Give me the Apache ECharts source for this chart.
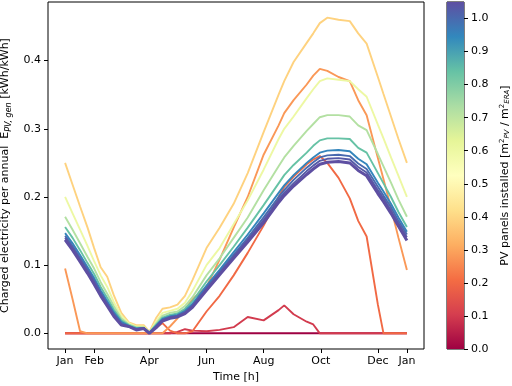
<!DOCTYPE html>
<html>
<head>
<meta charset="utf-8">
<script src="https://cdn.jsdelivr.net/npm/echarts@6/dist/echarts.min.js"></script>
<style>
  html, body { margin: 0; padding: 0; background: #fff; }
  #chart { width: 512px; height: 386px; }
</style>
</head>
<body>
<div id="chart"></div>
<script>
// day of year for every sample
const days = [0, 8, 16, 24, 31, 38, 45, 52, 60, 68, 76, 84, 90, 97, 104, 112, 120, 128, 136, 151,
  165, 180, 195, 212, 228, 234, 244, 258, 265, 272, 280, 292, 304, 313, 322, 334, 340, 348, 356, 365];

// PV panels installed for each line (colour scale value)
const panels = [0.0, 0.1, 0.2, 0.28, 0.39, 0.6, 0.72, 0.84, 0.95, 1.0, 1.03, 1.05];

const pv000 = [0, 0, 0, 0, 0, 0, 0, 0, 0, 0, 0, 0, 0, 0, 0, 0, 0, 0, 0, 0,
  0, 0, 0, 0, 0, 0, 0, 0, 0, 0, 0, 0, 0, 0, 0, 0, 0, 0, 0, 0];
const pv010 = [0, 0, 0, 0, 0, 0, 0, 0, 0, 0, 0, 0, 0, 0, 0, 0, 0.002, 0.006, 0.004, 0.003,
  0.005, 0.009, 0.024, 0.019, 0.034, 0.041, 0.028, 0.017, 0.013, 0, 0, 0, 0, 0, 0, 0, 0, 0, 0, 0];
const pv020 = [0, 0, 0, 0, 0, 0, 0, 0, 0, 0, 0, 0, 0, 0.008, 0.015, 0.004, 0, 0, 0.003, 0.032,
  0.055, 0.085, 0.118, 0.158, 0.2, 0.215, 0.23, 0.248, 0.255, 0.26, 0.25, 0.228, 0.198, 0.165, 0.142, 0.042, 0, 0, 0, 0];
const pv028 = [0.095, 0.05, 0.003, 0, 0, 0, 0, 0, 0, 0, 0, 0, 0, 0, 0, 0.01, 0.022, 0.035, 0.05, 0.068,
  0.108, 0.155, 0.2, 0.262, 0.305, 0.323, 0.342, 0.365, 0.378, 0.388, 0.385, 0.376, 0.37, 0.342, 0.32, 0.257, 0.226, 0.184, 0.14, 0.093];
const pv039 = [0.25, 0.218, 0.186, 0.155, 0.125, 0.097, 0.083, 0.056, 0.03, 0.016, 0.012, 0.012, 0.002, 0.022, 0.036, 0.038, 0.042, 0.055, 0.078, 0.125,
  0.155, 0.19, 0.235, 0.295, 0.35, 0.37, 0.398, 0.426, 0.44, 0.455, 0.463, 0.46, 0.458, 0.44, 0.425, 0.376, 0.351, 0.318, 0.285, 0.25];
const pv060 = [0.2, 0.176, 0.152, 0.128, 0.106, 0.085, 0.068, 0.046, 0.026, 0.015, 0.01, 0.01, 0.001, 0.017, 0.03, 0.033, 0.036, 0.045, 0.062, 0.1,
  0.125, 0.16, 0.195, 0.24, 0.285, 0.3, 0.318, 0.345, 0.358, 0.37, 0.374, 0.372, 0.37, 0.358, 0.347, 0.306, 0.286, 0.258, 0.231, 0.2];
const pv072 = [0.171, 0.152, 0.132, 0.112, 0.095, 0.075, 0.058, 0.04, 0.022, 0.013, 0.009, 0.009, 0.001, 0.014, 0.026, 0.03, 0.032, 0.04, 0.053, 0.085,
  0.11, 0.14, 0.17, 0.21, 0.245, 0.258, 0.275, 0.297, 0.307, 0.317, 0.32, 0.32, 0.318, 0.305, 0.298, 0.263, 0.245, 0.221, 0.196, 0.171];
const pv084 = [0.156, 0.14, 0.122, 0.103, 0.087, 0.068, 0.052, 0.035, 0.019, 0.012, 0.008, 0.008, 0.001, 0.012, 0.023, 0.027, 0.029, 0.036, 0.047, 0.076,
  0.1, 0.127, 0.155, 0.188, 0.22, 0.232, 0.247, 0.265, 0.275, 0.283, 0.286, 0.286, 0.285, 0.272, 0.265, 0.235, 0.22, 0.2, 0.178, 0.156];
const pv095 = [0.147, 0.132, 0.115, 0.097, 0.081, 0.063, 0.047, 0.031, 0.017, 0.011, 0.007, 0.008, 0.001, 0.011, 0.021, 0.025, 0.027, 0.033, 0.043, 0.07,
  0.093, 0.119, 0.145, 0.176, 0.206, 0.217, 0.232, 0.25, 0.258, 0.265, 0.268, 0.269, 0.267, 0.256, 0.248, 0.221, 0.208, 0.19, 0.17, 0.149];
const pv100 = [0.143, 0.128, 0.111, 0.094, 0.078, 0.06, 0.044, 0.029, 0.015, 0.01, 0.006, 0.008, 0.001, 0.01, 0.02, 0.024, 0.026, 0.031, 0.041, 0.067,
  0.09, 0.115, 0.14, 0.17, 0.2, 0.21, 0.225, 0.243, 0.251, 0.258, 0.261, 0.262, 0.26, 0.249, 0.241, 0.215, 0.202, 0.185, 0.165, 0.145];
const pv103 = [0.14, 0.125, 0.108, 0.091, 0.075, 0.057, 0.042, 0.027, 0.013, 0.01, 0.006, 0.008, 0, 0.009, 0.019, 0.023, 0.025, 0.03, 0.04, 0.065,
  0.088, 0.112, 0.137, 0.166, 0.196, 0.206, 0.22, 0.238, 0.246, 0.253, 0.256, 0.257, 0.255, 0.244, 0.236, 0.21, 0.198, 0.18, 0.161, 0.141];
const pv105 = [0.137, 0.122, 0.105, 0.088, 0.072, 0.055, 0.04, 0.025, 0.012, 0.01, 0.005, 0.007, 0, 0.008, 0.018, 0.022, 0.024, 0.029, 0.038, 0.063,
  0.086, 0.11, 0.134, 0.162, 0.192, 0.202, 0.216, 0.233, 0.241, 0.248, 0.251, 0.252, 0.25, 0.239, 0.231, 0.205, 0.193, 0.176, 0.157, 0.136];

const lines = [pv000, pv010, pv020, pv028, pv039, pv060, pv072, pv084, pv095, pv100, pv103, pv105];

// x ticks (day of year) and their labels
const tickDays = [0, 31, 90, 151, 212, 273, 334, 365];
const tickNames = ['Jan', 'Feb', 'Apr', 'Jun', 'Aug', 'Oct', 'Dec', 'Jan'];
const yTicks = [0, 0.1, 0.2, 0.3, 0.4];
const cbTicks = [0, 0.1, 0.2, 0.3, 0.4, 0.5, 0.6, 0.7, 0.8, 0.9, 1.0];
const cbMax = 1.05;

const spectral = ['#9e0142', '#d53e4f', '#f46d43', '#fdae61', '#fee08b', '#ffffbf',
  '#e6f598', '#abdda4', '#66c2a5', '#3288bd', '#5e4fa2'];

function hexRgb(h) {
  return [1, 3, 5].map(i => parseInt(h.substr(i, 2), 16));
}
function spectralColor(t) {
  t = Math.max(0, Math.min(1, t));
  const p = t * 10;
  const i = Math.min(9, Math.floor(p));
  const f = p - i;
  const a = hexRgb(spectral[i]);
  const b = hexRgb(spectral[i + 1]);
  const c = a.map((v, k) => Math.round(v + (b[k] - v) * f));
  return 'rgb(' + c.join(',') + ')';
}

const font = 'DejaVu Sans';

const chart = echarts.init(document.getElementById('chart'));

const lineSeries = lines.map((vals, idx) => ({
  type: 'line',
  xAxisIndex: 0,
  yAxisIndex: 0,
  symbol: 'none',
  z: 2 + idx,
  lineStyle: {
    width: idx === lines.length - 1 ? 3 : 1.9,
    color: spectralColor(panels[idx] / cbMax)
  },
  data: days.map((d, i) => [d, vals[i]])
}));

const option = {
  animation: false,
  backgroundColor: '#fff',
  textStyle: { fontFamily: font },
  grid: [
    { left: 48, top: 2, width: 376, height: 347, outerBoundsMode: 'none', containLabel: false,
      show: true, borderColor: '#000', borderWidth: 1, backgroundColor: 'transparent' },
    { left: 447, top: 2, width: 17, height: 347, outerBoundsMode: 'none', containLabel: false,
      show: true, borderColor: '#000', borderWidth: 1, backgroundColor: 'transparent' }
  ],
  xAxis: [
    {
      type: 'value', gridIndex: 0, min: -18.25, max: 383.25,
      name: 'Time [h]', nameLocation: 'middle', nameGap: 23,
      nameTextStyle: { fontFamily: font, fontSize: 11, color: '#000' },
      splitLine: { show: false },
      axisLine: { show: false, onZero: false },
      axisTick: { show: true, inside: false, length: 4, lineStyle: { color: '#000' }, customValues: tickDays },
      axisLabel: {
        fontFamily: font, fontSize: 11, color: '#000', margin: 7,
        customValues: tickDays,
        formatter: v => tickNames[tickDays.indexOf(v)] || ''
      }
    },
    {
      type: 'category', gridIndex: 1, data: ['cb'],
      axisLine: { show: false, onZero: false }, axisTick: { show: false }, axisLabel: { show: false }
    }
  ],
  yAxis: [
    {
      type: 'value', gridIndex: 0, min: -0.023, max: 0.486,
      name: 'Charged electricity per annual  E{sub|PV, gen} [kWh/kWh]',
      nameLocation: 'middle', nameGap: 33, nameRotate: 90,
      nameTextStyle: {
        fontFamily: font, fontSize: 11, color: '#000',
        rich: { sub: { fontFamily: font, fontSize: 8, fontStyle: 'italic', color: '#000', verticalAlign: 'bottom', padding: [6, 0, 0, 0] } }
      },
      splitLine: { show: false },
      axisLine: { show: false, onZero: false },
      axisTick: { show: true, inside: false, length: 4, lineStyle: { color: '#000' }, customValues: yTicks },
      axisLabel: {
        fontFamily: font, fontSize: 11, color: '#000', margin: 7,
        customValues: yTicks,
        formatter: v => v.toFixed(1)
      }
    },
    {
      type: 'value', gridIndex: 1, position: 'right', min: 0, max: cbMax,
      name: 'PV panels installed [m{sup|2}{sub|PV} / m{sup|2}{sub|ERA}]',
      nameLocation: 'middle', nameGap: 35, nameRotate: 90,
      nameTextStyle: {
        fontFamily: font, fontSize: 11, color: '#000',
        rich: {
          sup: { fontFamily: font, fontSize: 7, color: '#000', verticalAlign: 'top', padding: [0, 0, 5, 0] },
          sub: { fontFamily: font, fontSize: 7, fontStyle: 'italic', color: '#000', verticalAlign: 'bottom', padding: [5, 0, 0, 0] }
        }
      },
      splitLine: { show: false },
      axisLine: { show: false, onZero: false },
      axisTick: { show: true, inside: false, length: 4, lineStyle: { color: '#000' }, customValues: cbTicks },
      axisLabel: {
        fontFamily: font, fontSize: 11, color: '#000', margin: 7,
        customValues: cbTicks,
        formatter: v => v.toFixed(1)
      }
    }
  ],
  series: lineSeries.concat([{
    type: 'bar',
    xAxisIndex: 1,
    yAxisIndex: 1,
    barWidth: '100%',
    silent: true,
    itemStyle: {
      color: new echarts.graphic.LinearGradient(0, 1, 0, 0,
        spectral.map((c, i) => ({ offset: i / 10, color: c })))
    },
    data: [cbMax]
  }])
};

chart.setOption(option);
</script>
</body>
</html>
